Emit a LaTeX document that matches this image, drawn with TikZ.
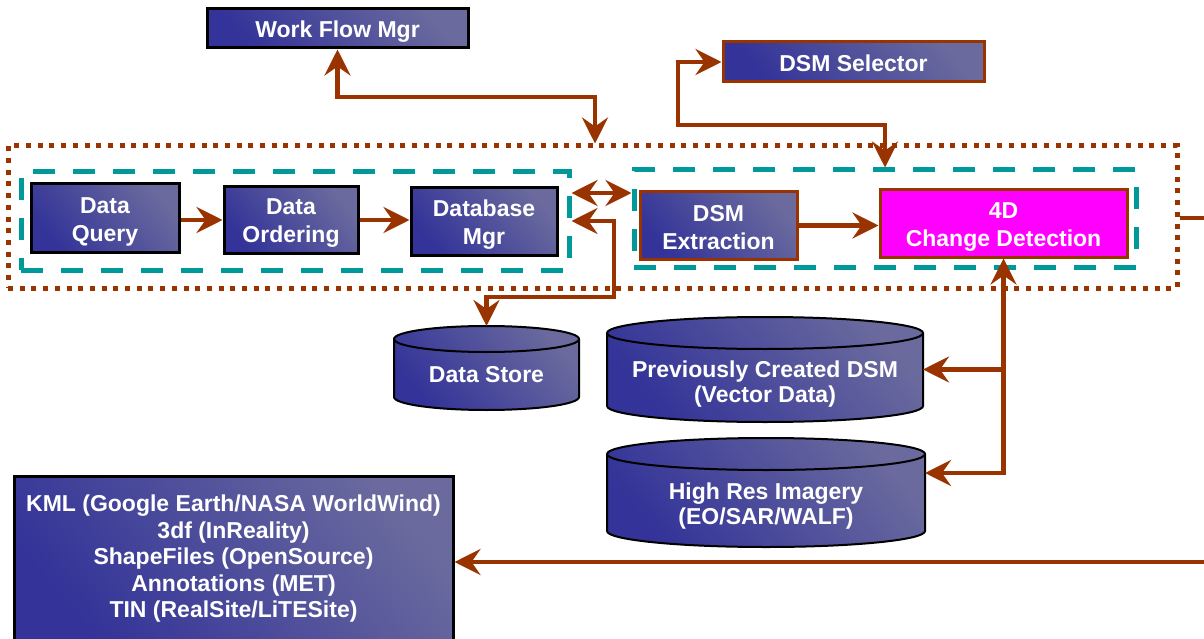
\documentclass[tikz,border=0pt]{standalone}
\usepackage{fontspec}
\setmainfont{Liberation Sans}
\usetikzlibrary{arrows.meta}
\definecolor{brn}{HTML}{993300}
\definecolor{tealdash}{HTML}{009999}
\definecolor{bdark}{HTML}{333399}
\definecolor{blight}{HTML}{6A6A9E}
\definecolor{magen}{HTML}{FF00FF}
\tikzset{
  grad/.style={top color=blight, bottom color=bdark, shading angle=-50},
  blk/.style={grad, draw=black, line width=3pt, inner sep=0pt},
  brbox/.style={blk, draw=brn},
  cdbox/.style={draw=brn, fill=magen, line width=3pt, inner sep=0pt},
  boxtxt/.style={text=white, font=\bfseries\fontsize{23}{28}\selectfont, align=center, inner sep=0pt},
  kmltxt/.style={boxtxt, font=\bfseries\fontsize{23}{26.5}\selectfont},
  cylline/.style={draw=black, line width=2pt},
  cyltext/.style={boxtxt, font=\bfseries\fontsize{23}{25}\selectfont},
  grpbox/.style={draw=tealdash, line width=5pt, dash pattern=on 22pt off 18pt, inner sep=0pt},
  outerbox/.style={draw=brn, line width=5pt, dash pattern=on 5pt off 6.7pt, inner sep=0pt},
  arr/.style={draw=brn, line width=4.5pt},
}
\newcommand\dbcyl[6]{%
  \pgfmathsetmacro\cyXc{(#2+#3)/2}%
  \pgfmathsetmacro\cyRx{(#3-#2)/2}%
  \pgfmathsetmacro\cyKx{0.5523*\cyRx}%
  \pgfmathsetmacro\cyK{0.5523*#6}%
  \pgfmathsetmacro\cyT{#4+#6}%
  \pgfmathsetmacro\cyB{#5-#6}%
  \pgfmathsetmacro\cyW{#3-#2}%
  \pgfmathsetmacro\cyH{#5-#4}%
  \pgfmathsetmacro\cyYc{(#4+#5)/2}%
  \shadedraw[grad, cylline] (#2,\cyT) -- (#2,\cyB)
    .. controls (#2,\cyB+\cyK) and (\cyXc-\cyKx,#5) .. (\cyXc,#5)
    .. controls (\cyXc+\cyKx,#5) and (#3,\cyB+\cyK) .. (#3,\cyB)
    -- (#3,\cyT)
    .. controls (#3,\cyT-\cyK) and (\cyXc+\cyKx,#4) .. (\cyXc,#4)
    .. controls (\cyXc-\cyKx,#4) and (#2,\cyT-\cyK) .. cycle;
  \draw[cylline] (#2,\cyT)
    .. controls (#2,\cyT+\cyK) and (\cyXc-\cyKx,\cyT+#6) .. (\cyXc,\cyT+#6)
    .. controls (\cyXc+\cyKx,\cyT+#6) and (#3,\cyT+\cyK) .. (#3,\cyT);
  \node[inner sep=0pt, outer sep=0pt, minimum width=\cyW pt, minimum height=\cyH pt] (#1) at (\cyXc,\cyYc) {};
}
\begin{document}
\begin{tikzpicture}[x=1pt,y=-1pt, >={Stealth[length=26pt,width=26pt,inset=9pt]}]
\clip (0,0) rectangle (1204,639);
\fill[white] (0,0) rectangle (1204,639);

% containers
\node[outerbox, minimum width=1169pt, minimum height=142pt] (outer) at (592.5,217) {};
\node[grpbox, minimum width=548pt, minimum height=98pt] (lgrp) at (295,221) {};
\node[grpbox, minimum width=502pt, minimum height=97pt] (rgrp) at (885,218.5) {};

% boxes
\node[blk, minimum width=261pt, minimum height=39pt] (wf) at (337.5,28.5) {};
\node[boxtxt] (wfT) at ([yshift=-3pt]wf.center) {Work Flow Mgr};
\node[brbox, minimum width=261pt, minimum height=40pt] (sel) at (853.5,62) {};
\node[boxtxt] (selT) at ([yshift=-1pt]sel.center) {DSM Selector};
\node[blk, minimum width=148pt, minimum height=68pt] (dq) at (105,218) {};
\node[boxtxt] (dqT) at ([yshift=-4pt]dq.center) {Data\\Query};
\node[blk, minimum width=134pt, minimum height=66pt] (dord) at (291,220) {};
\node[boxtxt] (dordT) at ([yshift=-3pt]dord.center) {Data\\Ordering};
\node[blk, minimum width=146pt, minimum height=67pt] (dbm) at (484,221.5) {};
\node[boxtxt] (dbmT) at ([yshift=-3pt]dbm.center) {Database\\Mgr};
\node[brbox, minimum width=157pt, minimum height=67pt] (ext) at (718.5,225.5) {};
\node[boxtxt] (extT) at ([yshift=-2pt]ext.center) {DSM\\Extraction};
\node[cdbox, minimum width=247pt, minimum height=67pt] (cd) at (1003.5,223.5) {};
\node[boxtxt] (cdT) at ([yshift=-4pt]cd.center) {4D\\Change Detection};
\node[blk, minimum width=439pt, minimum height=166pt] (kml) at (233.5,559) {};
\node[kmltxt] (kmlT) at (kml.center) {KML (Google Earth/NASA WorldWind)\\3df (InReality)\\ShapeFiles (OpenSource)\\Annotations (MET)\\TIN (RealSite/LiTESite)};

% cylinders
\dbcyl{ds}{394}{579}{326}{410}{13}
\node[cyltext] (dstxt) at (486.5,375) {Data Store};
\dbcyl{pcd}{607}{923}{317}{422}{16}
\node[cyltext] (pcdtxt) at (765,384) {Previously Created DSM\\(Vector Data)};
\dbcyl{hri}{607}{925}{438}{547}{16}
\node[cyltext] (hritxt) at (766,506.5) {High Res Imagery\\(EO/SAR/WALF)};

% coordinates for routing
\coordinate (jA) at (595,97);
\coordinate (jB1) at (678,62);
\coordinate (jB2) at (885,125);
\coordinate (jC) at (600,193);
\coordinate (jD) at (614,221);
\coordinate (jE) at (ds.north |- 0,297);
\coordinate (jG) at (cd.south |- 0,473);
\coordinate (jI) at (1230,218);
\coordinate (jH) at (1230,562);

% connectors
\draw[arr,<->] (wf.south) |- (jA) -- (jA |- outer.north);
\draw[arr,<->] (sel.west) -- (jB1) |- (jB2) -- (jB2 |- rgrp.north);
\draw[arr,<->] (jC -| lgrp.east) -- (jC -| rgrp.west);
\draw[arr,<->] (jD -| lgrp.east) -- (jD) |- (jE) -- (ds.north);
\draw[arr,->] (dord.west -| dq.east) -- (dord.west);
\draw[arr,->] (dord.east) -- (dord.east -| dbm.west);
\draw[arr,->] (ext.east) -- (ext.east -| cd.west);
\draw[arr,<->] (cd.south) -- (jG) -- (jG -| hri.east);
\draw[arr,->] (cd.south |- pcd.east) -- (pcd.east);
\draw[arr,->] (jI -| outer.east) -- (jI) -- (jH) -- (jH -| kml.east);
\end{tikzpicture}
\end{document}
